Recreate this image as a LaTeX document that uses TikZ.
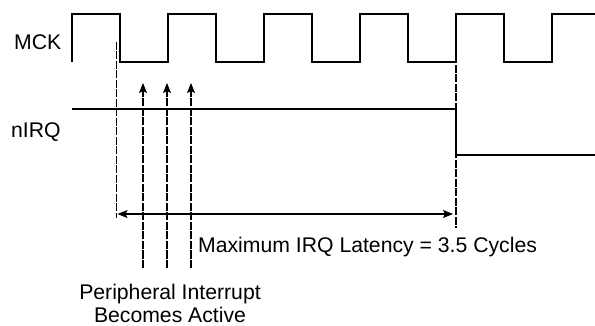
\documentclass[tikz,border=0pt]{standalone}
\usepackage{fontspec}
\setmainfont{Liberation Sans}
\usetikzlibrary{arrows.meta}
\begin{document}
\begin{tikzpicture}[x=1pt,y=-1pt,
  sig/.style={line width=1.8pt, line join=miter},
  guide/.style={line width=1.2pt, dash pattern=on 8pt off 1.5pt},
  lbl/.style={font=\fontsize{21.2}{24}\selectfont, inner sep=0pt},
  tip/.style={line width=1.2pt, dash pattern=on 8pt off 1.5pt, -{Stealth[length=10pt,width=8pt,inset=2pt]}},
  span/.style={line width=1.2pt, {Stealth[length=10pt,width=8pt,inset=2pt]}-{Stealth[length=10pt,width=8pt,inset=2pt]}}]
\useasboundingbox (0,0) rectangle (595,326);
% labels
\node[lbl, anchor=base west] (mck) at (14,49.3) {MCK};
\node[lbl, anchor=base west] (nirq) at (11,138) {nIRQ};
\node[lbl, anchor=base west] (lat) at (198,253) {Maximum IRQ Latency = 3.5 Cycles};
\node[lbl, anchor=base, align=center] (per) at (170,299) {Peripheral Interrupt};
\node[lbl, anchor=base, align=center] (act) at (170,322.5) {Becomes Active};
% clock
\draw[sig] (72,62) -- (72,14) -| (120,62) -| (168,14) -| (216,62) -| (264,14) -| (312,62)
  -| (360,14) -| (408,62) -| (456,14) -| (504,62) -| (552,14) -- (595,14);
% nIRQ
\coordinate (n0) at (72,108.7);
\coordinate (n1) at (456,108.7);
\coordinate (n2) at (456,155.3);
\coordinate (n3) at (595,155.3);
\draw[sig] (n0) -- (n1) -- (n2) -- (n3);
% guide lines
\coordinate (g1t) at (116.7,41.7);
\coordinate (g1b) at (116.7,218);
\coordinate (g2t) at (456,65);
\coordinate (g2b) at (456,228);
\draw[guide] (g1t) -- (g1b);
\draw[guide] (g2t) -- (g2b);
% latency span
\coordinate (sL) at (117.5,214);
\coordinate (sR) at (453,214);
\draw[span] (sL) -- (sR);
% interrupt arrows
\foreach \x/\n in {143/a,167/b,191/c}{
  \coordinate (\n b) at (\x,268);
  \coordinate (\n t) at (\x,83);
  \draw[tip] (\n b) -- (\n t);
}
\end{tikzpicture}
\end{document}
